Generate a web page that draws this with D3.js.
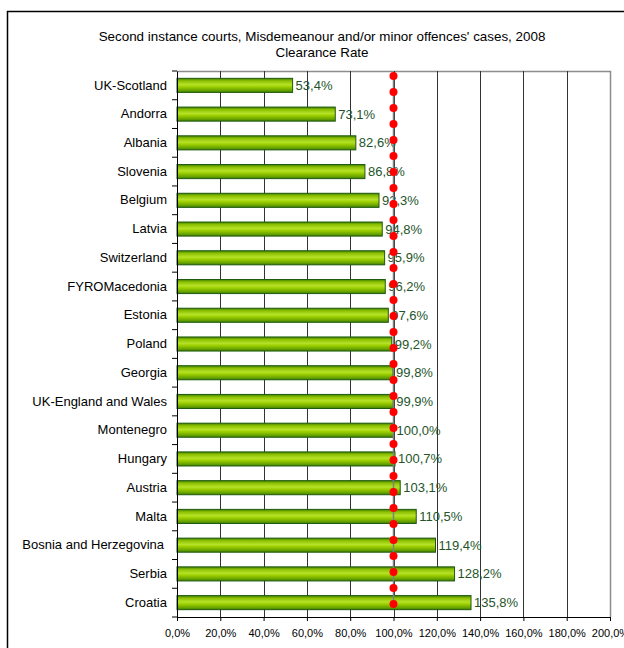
<!DOCTYPE html>
<html>
<head>
<meta charset="utf-8">
<script src="https://cdn.jsdelivr.net/npm/d3@7/dist/d3.min.js"></script>
<style>
  html, body { margin: 0; padding: 0; background: #fff; }
  svg { display: block; font-family: "Liberation Sans", Arial, sans-serif; }
</style>
</head>
<body>
<script>
const categories = ["UK-Scotland","Andorra","Albania","Slovenia","Belgium","Latvia","Switzerland","FYROMacedonia","Estonia","Poland","Georgia","UK-England and Wales","Montenegro","Hungary","Austria","Malta","Bosnia and Herzegovina","Serbia","Croatia"];
const clearanceRate = [53.4,73.1,82.6,86.8,93.3,94.8,95.9,96.2,97.6,99.2,99.8,99.9,100.0,100.7,103.1,110.5,119.4,128.2,135.8];
const referenceLine = [100,100,100,100,100,100,100,100,100,100,100,100,100,100,100,100,100,100,100,100,100,100,100,100,100,100,100,100,100,100,100,100,100,100];
const xTicks = [0,20,40,60,80,100,120,140,160,180,200];
const titleLines = ["Second instance courts, Misdemeanour and/or minor offences' cases, 2008", "Clearance Rate"];

const W = 624, H = 648;
const plot = {left: 177, right: 610, top: 71, bottom: 617};
const FONT = "'Liberation Sans', Arial, sans-serif";

const svg = d3.select("body").append("svg").attr("width", W).attr("height", H);

// outer chart border
svg.append("rect").attr("x", 7.5).attr("y", 11.5).attr("width", 640).attr("height", 660)
  .attr("fill", "#fff").attr("stroke", "#000").attr("stroke-width", 1.5);

// gradient
const defs = svg.append("defs");
const grad = defs.append("linearGradient").attr("id", "barGrad").attr("x1", 0).attr("y1", 0).attr("x2", 0).attr("y2", 1);
[[0,"#3f7f00"],[0.18,"#8cc000"],[0.45,"#b6e22a"],[0.6,"#9ed000"],[0.85,"#6aa400"],[1,"#3f7f00"]]
  .forEach(([o,c]) => grad.append("stop").attr("offset", o).attr("stop-color", c));

const x = d3.scaleLinear().domain([0, 200]).range([plot.left, plot.right]);
const y = d3.scaleBand().domain(categories).range([plot.top, plot.bottom]).paddingInner(0.51).paddingOuter(0.255);
const yRef = d3.scaleLinear().domain([0, referenceLine.length - 1]).range([76, 604]);

// title
svg.append("g").selectAll("text").data(titleLines).join("text")
  .attr("x", 322).attr("y", (d,i) => 41 + i*15.5)
  .attr("text-anchor", "middle").attr("font-size", 13.4).attr("font-family", FONT).attr("fill", "#000").text(d => d);

// plot border (top/right grey)
svg.append("path")
  .attr("d", `M${plot.left},${plot.top + 0.5}H${plot.right + 0.5}V${plot.bottom}`)
  .attr("fill", "none").attr("stroke", "#8c8c8c").attr("stroke-width", 1.5);

// gridlines
svg.append("g").selectAll("line").data(xTicks.filter(t => t > 0 && t < 200)).join("line")
  .attr("x1", d => Math.round(x(d)) + 0.5).attr("x2", d => Math.round(x(d)) + 0.5)
  .attr("y1", plot.top).attr("y2", plot.bottom)
  .attr("stroke", "#333").attr("stroke-width", 1);

// bars
svg.append("g").selectAll("rect").data(categories).join("rect")
  .attr("x", x(0)).attr("y", d => y(d))
  .attr("width", (d,i) => x(clearanceRate[i]) - x(0))
  .attr("height", y.bandwidth())
  .attr("fill", "url(#barGrad)").attr("stroke", "#1f5a0f").attr("stroke-width", 1);

// value labels
svg.append("g").selectAll("text").data(categories).join("text")
  .attr("x", (d,i) => x(clearanceRate[i]) + 3)
  .attr("y", d => y(d) + y.bandwidth()/2 + 4.5)
  .attr("font-size", 13).attr("font-family", FONT).attr("fill", "#24552a")
  .text((d,i) => clearanceRate[i].toFixed(1).replace(".", ",") + "%");

// y axis
const yAxis = d3.axisLeft(y).tickSize(0).tickPadding(10);
const gy = svg.append("g").attr("transform", `translate(${plot.left},0)`).call(yAxis);
gy.attr("font-family", FONT);
gy.select(".domain").attr("stroke", "#000");
gy.selectAll("text").attr("font-size", 13).attr("fill", "#000")
  .attr("dx", d => d === "Bosnia and Herzegovina" ? -3 : 0);
// category boundary ticks
const bounds = d3.range(categories.length + 1).map(i => plot.top + i * y.step());
svg.append("g").selectAll("line").data(bounds).join("line")
  .attr("x1", plot.left - 5).attr("x2", plot.left).attr("y1", d => d).attr("y2", d => d)
  .attr("stroke", "#000");

// x axis
const xAxis = d3.axisBottom(x).tickValues(xTicks).tickSize(4).tickPadding(8)
  .tickFormat(d => d.toFixed(1).replace(".", ",") + "%");
const gx = svg.append("g").attr("transform", `translate(0,${plot.bottom})`).call(xAxis);
gx.attr("font-family", FONT);
gx.select(".domain").attr("stroke", "#000").attr("d", `M${plot.left},0.5H${plot.right}`);
gx.selectAll("text").attr("font-size", 11).attr("fill", "#000");
gx.selectAll(".tick line").attr("stroke", "#000");

// reference line with markers
svg.append("line")
  .attr("x1", x(100)).attr("x2", x(100))
  .attr("y1", yRef(0)).attr("y2", yRef(referenceLine.length - 1))
  .attr("stroke", "#808080").attr("stroke-width", 1.5);
svg.append("g").selectAll("circle").data(referenceLine).join("circle")
  .attr("cx", d => x(d)).attr("cy", (d,i) => yRef(i)).attr("r", 4)
  .attr("fill", "#ff0000");
</script>
</body>
</html>
